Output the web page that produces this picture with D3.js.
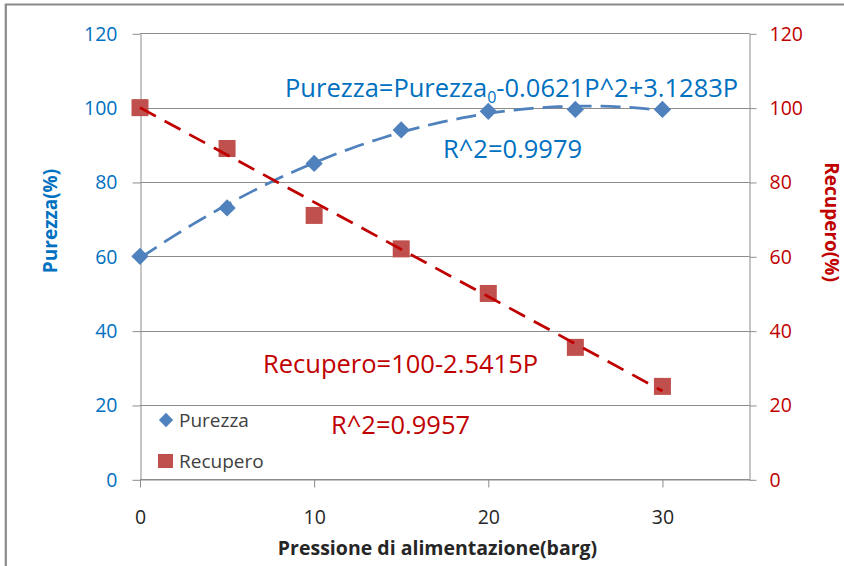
<!DOCTYPE html>
<html>
<head>
<meta charset="utf-8">
<script src="https://cdn.jsdelivr.net/npm/d3@7"></script>
<style>
  body { margin: 0; background: #fff; }
  svg text { font-family: "Open Sans", "DejaVu Sans", sans-serif; }
</style>
</head>
<body>
<script>
// data
var pressione = [0, 5, 10, 15, 20, 25, 30];
var purezza = [60, 73, 85, 94, 99, 99.5, 99.5];
var recupero = [100, 89, 71, 62, 50, 35.5, 25];
var yTicks = [0, 20, 40, 60, 80, 100, 120];
var xTicks = [0, 10, 20, 30];
// linear trend given on chart: Recupero = 100 - 2.5415P
var recIntercept = 100, recSlope = -2.5415;

var width = 844,
    height = 566,
    plotLeft = 140, plotRight = 749.5,
    plotTop = 33.3, plotBottom = 479.3;

var blue = "#4F81BD", blueText = "#0070C0",
    red = "#C0504D", redLine = "#C00000", grid = "#8C8C8C";

var svg = d3.select("body").append("svg")
    .attr("width", width)
    .attr("height", height);

// outer frame (only top and left visible)
svg.append("path")
    .attr("d", "M5.8,566V4.5H844")
    .attr("fill", "none")
    .attr("stroke", "#8A8A8A")
    .attr("stroke-width", 2.2);

var x = d3.scaleLinear().domain([0, 35]).range([plotLeft, plotRight]),
    yL = d3.scaleLinear().domain([0, 120]).range([plotBottom, plotTop]),
    yR = d3.scaleLinear().domain([0, 120]).range([plotBottom, plotTop]);

// horizontal gridlines
svg.append("g").selectAll("line")
    .data(yTicks)
    .enter().append("line")
    .attr("x1", plotLeft).attr("x2", plotRight)
    .attr("y1", function(d) { return Math.round(yL(d)) + 0.5; })
    .attr("y2", function(d) { return Math.round(yL(d)) + 0.5; })
    .attr("stroke", grid).attr("stroke-width", 1);

// axes
function styleAxis(g, color) {
  g.select(".domain").attr("stroke", grid);
  g.selectAll(".tick line").attr("stroke", grid);
  g.selectAll(".tick text")
    .attr("fill", color)
    .style("font-family", "'Open Sans', sans-serif")
    .style("font-size", "19.5px");
}

svg.append("g")
    .attr("transform", "translate(" + (plotLeft + 0.5) + ",0.5)")
    .call(d3.axisLeft(yL).tickValues(yTicks).tickSize(8).tickSizeOuter(0).tickPadding(15))
    .call(styleAxis, blueText);

svg.append("g")
    .attr("transform", "translate(" + plotRight + ",0.5)")
    .call(d3.axisRight(yR).tickValues(yTicks).tickSize(7).tickSizeOuter(0).tickPadding(13))
    .call(styleAxis, redLine);

svg.append("g")
    .attr("transform", "translate(0," + (Math.round(plotBottom) + 0.5) + ")")
    .call(d3.axisBottom(x).tickValues(xTicks).tickSize(8).tickSizeOuter(0).tickPadding(23))
    .call(styleAxis, "#262626");

// axis titles
svg.append("text")
    .attr("transform", "translate(57,221) rotate(-90)")
    .attr("text-anchor", "middle")
    .attr("fill", blueText)
    .style("font-size", "19px").style("font-weight", "bold")
    .text("Purezza(%)");

svg.append("text")
    .attr("transform", "translate(825,222) rotate(90)")
    .attr("text-anchor", "middle")
    .attr("fill", redLine)
    .style("font-size", "19px").style("font-weight", "bold")
    .text("Recupero(%)");

svg.append("text")
    .attr("x", 437.5)
    .attr("y", 554.5)
    .attr("text-anchor", "middle")
    .attr("fill", "#262626")
    .style("font-size", "19.5px").style("font-weight", "bold")
    .text("Pressione di alimentazione(barg)");

// markers
var purData = pressione.map(function(p, i) { return [p, purezza[i]]; }),
    recData = pressione.map(function(p, i) { return [p, recupero[i]]; });

svg.append("g").selectAll("path")
    .data(purData)
    .enter().append("path")
    .attr("transform", function(d) { return "translate(" + x(d[0]) + "," + yL(d[1]) + ")"; })
    .attr("d", d3.symbol().type(d3.symbolDiamond2).size(190))
    .attr("fill", blue);

svg.append("g").selectAll("rect")
    .data(recData)
    .enter().append("rect")
    .attr("x", function(d) { return x(d[0]) - 8.5; })
    .attr("y", function(d) { return yR(d[1]) - 8.5; })
    .attr("width", 17).attr("height", 17)
    .attr("fill", red);

// trend lines
// quadratic least squares fit for Purezza
function quadFit(xs, ys) {
  var n = xs.length, s = [0, 0, 0, 0, 0], t = [0, 0, 0];
  for (var i = 0; i < n; i++) {
    for (var k = 0; k < 5; k++) s[k] += Math.pow(xs[i], k);
    for (var k = 0; k < 3; k++) t[k] += ys[i] * Math.pow(xs[i], k);
  }
  var A = [[s[0], s[1], s[2], t[0]], [s[1], s[2], s[3], t[1]], [s[2], s[3], s[4], t[2]]];
  for (var c = 0; c < 3; c++) {
    for (var r = c + 1; r < 3; r++) {
      var f = A[r][c] / A[c][c];
      for (var k = c; k < 4; k++) A[r][k] -= f * A[c][k];
    }
  }
  var b = [0, 0, 0];
  for (var r = 2; r >= 0; r--) {
    var v = A[r][3];
    for (var k = r + 1; k < 3; k++) v -= A[r][k] * b[k];
    b[r] = v / A[r][r];
  }
  return b;
}
var coef = quadFit(pressione, purezza);
var steps = d3.range(0, 30.01, 0.5);

svg.append("path")
    .datum(steps)
    .attr("d", d3.line()
      .x(function(p) { return x(p); })
      .y(function(p) { return yL(coef[0] + coef[1] * p + coef[2] * p * p); }))
    .attr("fill", "none")
    .attr("stroke", blue)
    .attr("stroke-width", 2.75)
    .attr("stroke-dasharray", "20,9");

svg.append("path")
    .datum([0, 30])
    .attr("d", d3.line()
      .x(function(p) { return x(p); })
      .y(function(p) { return yR(recIntercept + recSlope * p); }))
    .attr("fill", "none")
    .attr("stroke", redLine)
    .attr("stroke-width", 2.75)
    .attr("stroke-dasharray", "18,10");

// equations
var eq1 = svg.append("text")
    .attr("x", 285).attr("y", 96.5)
    .attr("fill", blueText)
    .style("font-size", "25.5px");
eq1.append("tspan").text("Purezza=Purezza");
eq1.append("tspan").attr("dy", 6).style("font-size", "16px").text("0");
eq1.append("tspan").attr("dy", -6).text("-0.0621P^2+3.1283P");

svg.append("text")
    .attr("x", 443).attr("y", 158)
    .attr("fill", blueText)
    .style("font-size", "25.5px")
    .text("R^2=0.9979");

svg.append("text")
    .attr("x", 263).attr("y", 373)
    .attr("fill", redLine)
    .style("font-size", "25.5px")
    .text("Recupero=100-2.5415P");

svg.append("text")
    .attr("x", 331).attr("y", 433.5)
    .attr("fill", redLine)
    .style("font-size", "25.5px")
    .text("R^2=0.9957");

// legend
var legend = svg.append("g");
legend.append("path")
    .attr("transform", "translate(166,420)")
    .attr("d", d3.symbol().type(d3.symbolDiamond2).size(130))
    .attr("fill", blue);
legend.append("rect")
    .attr("x", 158).attr("y", 454)
    .attr("width", 15).attr("height", 14)
    .attr("fill", red);
legend.append("text")
    .attr("x", 179).attr("y", 427)
    .attr("fill", "#404040")
    .style("font-size", "19px")
    .text("Purezza");
legend.append("text")
    .attr("x", 179).attr("y", 467.5)
    .attr("fill", "#404040")
    .style("font-size", "19px")
    .text("Recupero");
</script>
</body>
</html>
